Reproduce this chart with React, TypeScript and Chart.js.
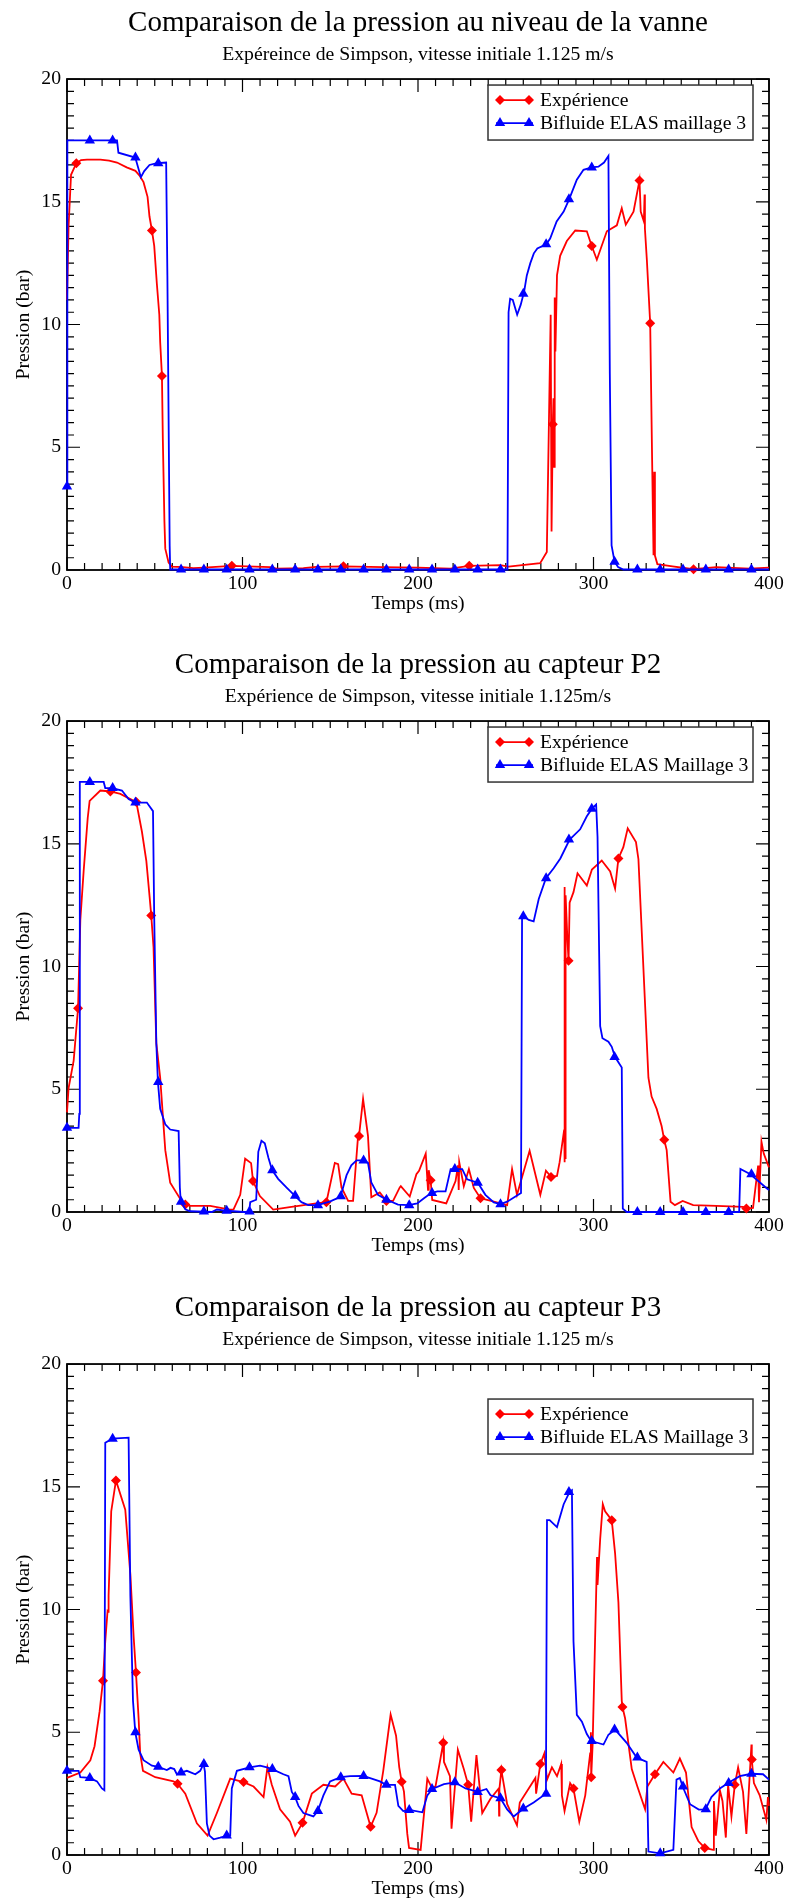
import { useEffect, useRef } from 'react';
import { Chart, registerables } from 'chart.js';

Chart.register(...registerables);

type Pt = [number, number];

const FONT = "'Liberation Serif', 'Times New Roman', serif";
const RED = '#ff0000';
const BLUE = '#0000ff';

// ---------- Chart 1 : vanne ----------
const vanneTitle = 'Comparaison de la pression au niveau de la vanne';
const vanneSubtitle = 'Expéreince de Simpson, vitesse initiale 1.125 m/s';
const vanneSimLabel = 'Bifluide ELAS maillage 3';

const vanneExp: Pt[] = [
  [0, 11.0], [0.9, 14.0], [2.3, 16.1], [5.3, 16.57], [8, 16.7], [11.4, 16.72], [19, 16.72], [24, 16.68],
  [28.5, 16.6], [34, 16.4], [39, 16.26], [41.5, 16.05], [43.6, 15.8], [45.9, 15.2], [47, 14.4], [48.4, 13.83],
  [49.7, 13.2], [51.2, 11.66], [52.6, 10.4], [53.1, 9.28], [54.1, 7.9], [54.6, 5.35], [55.5, 2.0], [56, 0.87],
  [57.9, 0.3], [59.8, 0.14], [66, 0.12], [72, 0.08], [78, 0.1], [93.9, 0.17], [115.7, 0.12], [119.5, 0.06],
  [134.7, 0.08], [142, 0.13], [157.5, 0.15], [180, 0.12], [200, 0.1], [218.4, 0.06], [229.2, 0.17], [246.9, 0.2],
  [251.6, 0.14], [269.6, 0.28], [273.4, 0.73], [275.6, 10.4], [276.1, 1.57], [276.8, 5.94], [277.2, 7.0],
  [277.5, 4.2], [277.9, 11.1], [278.3, 8.9], [279.2, 12.0], [281, 12.8], [284.8, 13.4], [289.6, 13.83],
  [296.2, 13.8], [299, 13.2], [301.9, 12.64], [307.6, 13.8], [313.3, 14.04], [316.1, 14.74], [318.4, 14.07],
  [322.8, 14.6], [326.2, 15.87], [326.9, 14.6], [328.7, 14.2], [329.1, 15.3], [329.3, 13.9], [330.4, 12.64],
  [332.3, 10.05], [333.4, 4.5], [334.2, 0.6], [334.6, 4.0], [335.0, 0.59], [336.4, 0.24], [345, 0.15],
  [357, 0.03], [370, 0.12], [389, 0.06], [400, 0.1],
];
const vanneExpMarks: Pt[] = [
  [5.3, 16.57], [48.4, 13.83], [54.1, 7.9], [93.9, 0.17], [157.5, 0.15], [229.2, 0.17], [276.8, 5.94],
  [299, 13.2], [326.2, 15.87], [332.3, 10.05], [357, 0.03],
];
const vanneSim: Pt[] = [
  [0, 3.4], [0.2, 17.5], [28.5, 17.5], [29.3, 17.0], [38.9, 16.8], [42.1, 16.0], [44, 16.25], [47, 16.5],
  [51.2, 16.57], [56.5, 16.6], [57.2, 12], [58.5, 1], [58.8, 0.02], [251, 0.02], [251.6, 10.5], [252.5, 11.05],
  [254, 11.0], [256.5, 10.4], [258.5, 10.8], [260.5, 11.35], [262, 12.0], [264, 12.5], [266, 12.9], [268, 13.1],
  [273, 13.27], [275.3, 13.5], [279, 14.2], [283, 14.6], [286.1, 15.1], [290.5, 15.9], [294.3, 16.3], [299, 16.4],
  [302.8, 16.43], [306, 16.6], [308.5, 16.87], [309.3, 8], [310.3, 1.0], [312, 0.34], [314, 0.12], [317, 0.02],
  [400, 0.02],
];
const vanneSimMarks: Pt[] = [
  [0, 3.4], [13, 17.5], [26, 17.5], [39, 16.8], [52, 16.57], [65, 0.02], [78, 0.02], [91, 0.02], [104, 0.02],
  [117, 0.02], [130, 0.02], [143, 0.02], [156, 0.02], [169, 0.02], [182, 0.02], [195, 0.02], [208, 0.02],
  [221, 0.02], [234, 0.02], [247, 0.02], [260, 11.25], [273, 13.27], [286, 15.1], [299, 16.4], [312, 0.34],
  [325, 0.02], [338, 0.02], [351, 0.02], [364, 0.02], [377, 0.02], [390, 0.02],
];

// ---------- Chart 2 : capteur P2 ----------
const p2Title = 'Comparaison de la pression au capteur P2';
const p2Subtitle = 'Expérience de Simpson, vitesse initiale 1.125m/s';
const p2SimLabel = 'Bifluide ELAS Maillage 3';

const p2Exp: Pt[] = [
  [0, 4.06], [0.9, 5.05], [3.8, 6.17], [6.3, 8.3], [7.6, 11.9], [9.5, 13.9], [11, 15.3], [11.8, 16.05],
  [12.9, 16.75], [19, 17.17], [24.7, 17.13], [30.4, 17.03], [36.1, 16.82], [39.5, 16.7], [42.7, 15.49],
  [45.2, 14.3], [47.1, 12.82], [48, 12.08], [49.3, 10.79], [50.9, 6.87], [53.1, 5.47], [56, 2.52], [58.8, 1.19],
  [65.5, 0.42], [67.4, 0.31], [70.2, 0.25], [81.6, 0.25], [92.8, 0.1], [94.9, 0.11], [98.7, 0.7], [101.5, 2.17],
  [104.9, 1.99], [106, 1.26], [109.9, 0.65], [117.5, 0.1], [126.9, 0.2], [142, 0.35], [147.8, 0.4], [152.6, 2.0],
  [154.5, 1.95], [156.4, 1.0], [160.2, 0.45], [163, 0.45], [165.8, 3.05], [166.4, 3.1], [168.7, 4.6],
  [171.5, 3.1], [173.4, 0.6], [178.2, 0.8], [182, 0.45], [185.8, 0.45], [189.6, 1.0], [190.2, 1.05],
  [195.3, 0.63], [199.1, 1.54], [200.6, 1.68], [204.4, 2.38], [205.7, 0.9], [206.1, 1.7], [207.2, 1.29],
  [208.1, 0.49], [216.1, 0.35], [221.4, 1.26], [222.8, 1.9], [223.2, 0.9], [223.5, 2.03], [226.1, 1.05],
  [229, 1.75], [231.8, 0.98], [235.6, 0.56], [239.4, 0.49], [247, 0.35], [250.8, 0.28], [253.6, 1.75],
  [256.4, 0.7], [263.6, 2.49], [269.7, 0.7], [272.9, 1.68], [275.8, 1.43], [279.2, 1.47], [280.7, 2.03],
  [283.3, 3.36], [283.5, 2.03], [283.6, 13.24], [283.8, 2.2], [284.1, 12.9], [285.2, 11.0], [285.8, 10.23],
  [286.4, 12.6], [288.6, 13.03], [290.9, 13.8], [296.2, 13.3], [299.1, 13.95], [304.7, 14.32], [309.5, 13.87],
  [312.3, 13.17], [314.2, 14.4], [317, 14.86], [319.5, 15.63], [324.2, 15.07], [325.6, 14.37], [331.3, 5.47],
  [333.1, 4.7], [336, 4.2], [338.8, 3.5], [340.3, 2.94], [341.7, 2.52], [343.9, 0.42], [346.4, 0.28],
  [350.8, 0.45], [356.8, 0.28], [370, 0.25], [385.2, 0.21], [387.1, 0.14], [390.9, 0.17], [393.8, 1.89],
  [394.3, 0.4], [395.7, 2.87], [397, 2.38], [400, 1.82],
];
const p2ExpMarks: Pt[] = [
  [6.3, 8.3], [24.7, 17.13], [39.5, 16.7], [48, 12.08], [67.4, 0.31], [106, 1.26], [147.8, 0.4], [166.4, 3.1],
  [182, 0.45], [207.2, 1.29], [235.6, 0.56], [275.8, 1.43], [285.8, 10.23], [314.2, 14.4], [340.3, 2.94],
  [387.1, 0.14],
];
const p2Sim: Pt[] = [
  [0, 3.43], [6.6, 3.43], [7.0, 4.0], [7.3, 17.52], [20.9, 17.52], [21.8, 17.27], [25.8, 17.27], [31.3, 17.17],
  [35.1, 16.82], [38.9, 16.68], [45.5, 16.68], [49, 16.33], [49.7, 12], [50.9, 6.87], [51.8, 5.3], [53.1, 4.2],
  [56, 3.57], [58.8, 3.36], [63.6, 3.3], [64.3, 1.0], [64.8, 0.45], [67.4, 0.11], [70.2, 0.03], [82.5, 0.0],
  [85.4, 0.1], [91, 0.05], [100.6, 0.0], [103.8, 0.0], [104.4, 0.4], [107.8, 0.5], [109, 2.45], [110.8, 2.9],
  [112.7, 2.8], [114.8, 2.2], [116.8, 1.72], [120.3, 1.35], [125, 1.0], [129.6, 0.68], [133.6, 0.4],
  [137.4, 0.28], [142.7, 0.28], [149.7, 0.42], [155.8, 0.62], [159.3, 1.5], [162, 1.9], [165, 2.1],
  [168.7, 2.1], [171.5, 2.0], [173.4, 1.2], [177.2, 0.7], [181.6, 0.52], [188.6, 0.3], [194.6, 0.28],
  [199.6, 0.35], [203.4, 0.56], [207.5, 0.77], [211, 0.84], [215.7, 0.84], [218.6, 1.75], [221.4, 1.75],
  [225.2, 1.75], [228, 1.33], [234.1, 1.19], [238.4, 0.7], [243.2, 0.39], [247, 0.32], [250.8, 0.42],
  [258.7, 0.77], [259.3, 12.05], [260.2, 12.05], [263.1, 11.9], [265.9, 11.84], [268.8, 12.75], [272.9, 13.6],
  [277.3, 14.0], [281.1, 14.4], [286.4, 15.17], [292.4, 15.59], [296.2, 16.12], [299.1, 16.43], [301.5, 16.6],
  [302.3, 15.28], [303.8, 7.57], [305.1, 7.08], [308.5, 6.94], [310.4, 6.73], [312.3, 6.31], [316.1, 5.89],
  [316.7, 0.14], [318.9, 0.0], [383, 0.0], [383.7, 1.75], [389.4, 1.54], [398.5, 0.98], [400, 0.9],
];
const p2SimMarks: Pt[] = [
  [0, 3.43], [13, 17.52], [26, 17.27], [39, 16.68], [52, 5.3], [65, 0.42], [78, 0.02], [91, 0.05], [104, 0.02],
  [117, 1.7], [130, 0.66], [143, 0.28], [156, 0.64], [169, 2.1], [182, 0.5], [195, 0.28], [208, 0.77],
  [221, 1.75], [234, 1.19], [247, 0.32], [260, 12.05], [273, 13.6], [286, 15.17], [299, 16.43], [312, 6.31],
  [325, 0.0], [338, 0.0], [351, 0.0], [364, 0.0], [377, 0.0], [390, 1.54],
];

// ---------- Chart 3 : capteur P3 ----------
const p3Title = 'Comparaison de la pression au capteur P3';
const p3Subtitle = 'Expérience de Simpson, vitesse initiale 1.125 m/s';
const p3SimLabel = 'Bifluide ELAS Maillage 3';

const p3Exp: Pt[] = [
  [0, 3.14], [7.6, 3.36], [13.3, 3.86], [15.7, 4.43], [18.6, 5.86], [20.5, 7.1], [21.8, 8.71], [23.1, 9.93],
  [23.4, 9.9], [23.7, 10.57], [25.2, 14], [27.9, 15.26], [33.2, 14.07], [36.1, 11.43], [38, 8.86], [39.3, 7.43],
  [40.8, 5.57], [41.7, 4.14], [43.3, 3.43], [50.3, 3.17], [60.7, 3.0], [63, 2.9], [67.4, 2.5], [74, 1.29],
  [80.1, 0.79], [85.4, 1.71], [93, 3.11], [100.6, 2.97], [106.3, 2.79], [112, 2.36], [114.2, 3.57],
  [116.7, 2.86], [121.4, 1.86], [127.1, 1.36], [130, 0.79], [134.2, 1.31], [139.5, 2.5], [146.1, 2.86],
  [152.8, 2.79], [157.5, 3.11], [162.2, 2.5], [167.9, 2.43], [173, 1.15], [176.4, 1.72], [180.2, 3.43],
  [184.4, 5.72], [187.5, 4.86], [189.3, 3.58], [190.7, 2.98], [192, 2.58], [193.9, 0.86], [194.9, 0.29],
  [201.5, 0.21], [205.3, 3.11], [208.1, 2.71], [210, 2.8], [214.4, 4.57], [214.8, 3.79], [218.2, 3.21],
  [219.1, 1.07], [222.7, 4.29], [226.1, 3.5], [228.6, 2.86], [230.3, 1.36], [233.3, 4.07], [236.6, 1.71],
  [241.3, 2.29], [246, 2.71], [246.2, 1.6], [246.4, 2.7], [247.5, 3.46], [250.8, 2.07], [256.4, 1.21],
  [258, 2.14], [263.1, 2.71], [266.9, 3.14], [267.3, 2.5], [269.7, 3.71], [272, 4.14], [273.5, 3.07],
  [276.3, 3.57], [279.2, 3.21], [281.6, 3.71], [282, 2.43], [283.5, 1.79], [286.7, 2.93], [288.6, 2.71],
  [291.9, 1.36], [295.3, 2.43], [298.1, 4.14], [298.5, 5.0], [298.7, 3.17], [299.5, 4.5], [302, 12.14],
  [302.3, 11.0], [303.8, 12.86], [305.3, 14.29], [306.6, 14.0], [310.4, 13.64], [312.3, 12.29], [314.2, 10.29],
  [316.1, 6.29], [316.5, 6.03], [318, 5.57], [321.8, 3.5], [325, 2.79], [329.4, 1.86], [330.7, 2.79],
  [335, 3.29], [339.8, 3.79], [345.5, 3.36], [349.2, 3.93], [352.7, 3.36], [355.9, 1.14], [359.7, 0.57],
  [363.4, 0.29], [368.2, 0.21], [368.6, 2.2], [369.7, 0.79], [372, 2.64], [373.5, 2.2], [375.4, 0.71],
  [376.7, 2.86], [378.6, 1.57], [380.5, 2.86], [382.4, 3.57], [385.2, 2.57], [387.1, 0.86], [390, 4.5],
  [390.2, 3.89], [391.4, 2.93], [394.7, 2.43], [398.5, 1.43], [399.4, 2.36], [400, 2.0],
];
const p3ExpMarks: Pt[] = [
  [20.5, 7.1], [27.9, 15.26], [39.3, 7.43], [63, 2.9], [100.6, 2.97], [134.2, 1.31], [173, 1.15],
  [190.7, 2.98], [214.4, 4.57], [228.6, 2.86], [247.5, 3.46], [269.7, 3.71], [288.6, 2.71], [298.7, 3.17],
  [310.4, 13.64], [316.5, 6.03], [335, 3.29], [363.4, 0.29], [380.5, 2.86], [390.2, 3.89],
];
const p3Sim: Pt[] = [
  [0, 3.43], [6.6, 3.43], [7.6, 3.17], [12.9, 3.14], [17.1, 3.0], [19.9, 2.71], [21.3, 2.64], [21.8, 16.79],
  [25.8, 16.96], [35.1, 17.0], [36.1, 10.57], [37.6, 6.29], [38.9, 5.0], [40.8, 4.29], [43.6, 3.86],
  [48.4, 3.64], [51.6, 3.6], [56.9, 3.46], [59, 3.55], [61.1, 3.5], [62.6, 3.29], [64.9, 3.36], [68.3, 3.43],
  [73.1, 3.29], [75.9, 3.43], [77.8, 3.71], [78.6, 3.4], [79.7, 1.29], [81.2, 0.79], [83.5, 0.64], [87.3, 0.71],
  [91.1, 0.79], [93, 0.79], [93.9, 2.71], [96.8, 3.43], [104, 3.57], [110, 3.64], [113.9, 3.57], [116.9, 3.5],
  [123.3, 3.29], [126.2, 3.21], [128.1, 2.57], [130, 2.36], [131.9, 2.0], [134.7, 1.71], [140.4, 1.57],
  [142.9, 1.79], [146.1, 2.43], [149.9, 3.0], [156, 3.17], [161.3, 3.21], [168.9, 3.22], [178.3, 3.0],
  [181.8, 2.86], [186.9, 2.86], [188.8, 2.0], [191.6, 1.79], [195.8, 1.83], [202.5, 1.74], [205.3, 2.43],
  [208.1, 2.69], [214.8, 2.89], [221, 2.96], [227.1, 2.71], [234.1, 2.57], [239, 2.69], [241.3, 2.43],
  [247, 2.31], [250.8, 1.86], [254.5, 1.57], [260.2, 1.89], [265.9, 2.14], [272.9, 2.5], [273.5, 13.64],
  [275, 13.64], [279.2, 13.36], [283, 14.29], [286.4, 14.79], [287.7, 14.86], [288.6, 8.71], [290.5, 5.71],
  [293.4, 5.43], [296.2, 4.93], [298.7, 4.64], [305.7, 4.5], [308.5, 4.9], [312.3, 5.11], [318.9, 4.57],
  [324.6, 3.97], [330.3, 3.79], [331.3, 0.14], [337.9, 0.07], [345.5, 0.21], [347.3, 3.07], [349.2, 3.14],
  [350.8, 2.79], [355, 2.07], [360, 1.85], [363.8, 1.86], [367.2, 2.36], [372, 2.71], [376.7, 2.93],
  [383.3, 3.21], [390, 3.31], [396.6, 3.29], [400, 3.07],
];
const p3SimMarks: Pt[] = [
  [0, 3.43], [13, 3.14], [26, 16.96], [39, 5.0], [52, 3.6], [65, 3.36], [78, 3.71], [91, 0.79], [104, 3.57],
  [117, 3.5], [130, 2.36], [143, 1.79], [156, 3.17], [169, 3.22], [182, 2.86], [195, 1.83], [208, 2.69],
  [221, 2.96], [234, 2.57], [247, 2.31], [260, 1.89], [273, 2.5], [286, 14.79], [299, 4.64], [312, 5.11],
  [325, 3.97], [338, 0.07], [351, 2.79], [364, 1.86], [377, 2.93], [390, 3.31],
];

const expLabel = 'Expérience';
const xAxisLabel = 'Temps (ms)';
const yAxisLabel = 'Pression (bar)';
const xRange: Pt = [0, 400];
const yRange: Pt = [0, 20];
const xStep = 100;
const yStep = 5;

const toXY = (pts: Pt[]) => pts.map(([x, y]) => ({ x, y }));

function drawDiamond(ctx: CanvasRenderingContext2D, x: number, y: number, r: number) {
  ctx.beginPath();
  ctx.moveTo(x - r, y);
  ctx.lineTo(x, y - r);
  ctx.lineTo(x + r, y);
  ctx.lineTo(x, y + r);
  ctx.closePath();
  ctx.fill();
}
function drawTriangle(ctx: CanvasRenderingContext2D, x: number, y: number, r: number) {
  ctx.beginPath();
  ctx.moveTo(x, y - r);
  ctx.lineTo(x + r * 0.866, y + r * 0.5);
  ctx.lineTo(x - r * 0.866, y + r * 0.5);
  ctx.closePath();
  ctx.fill();
}

const gracePlugin = {
  id: 'grace',
  beforeDatasetsDraw(chart: any) {
    const { ctx, chartArea: a, scales } = chart;
    const xs = scales.x;
    const ys = scales.y;
    ctx.save();
    ctx.strokeStyle = '#000';
    ctx.lineWidth = 1.2;
    ctx.beginPath();
    for (let i = 0; i <= 40; i++) {
      const px = xs.getPixelForValue(i * 10);
      const len = i % 10 === 0 ? 13 : 7;
      ctx.moveTo(px, a.bottom);
      ctx.lineTo(px, a.bottom - len);
      ctx.moveTo(px, a.top);
      ctx.lineTo(px, a.top + len);
    }
    for (let i = 0; i <= 40; i++) {
      const py = ys.getPixelForValue(i * 0.5);
      const len = i % 10 === 0 ? 13 : 7;
      ctx.moveTo(a.left, py);
      ctx.lineTo(a.left + len, py);
      ctx.moveTo(a.right, py);
      ctx.lineTo(a.right - len, py);
    }
    ctx.stroke();
    ctx.lineWidth = 1.8;
    ctx.strokeRect(a.left, a.top, a.right - a.left, a.bottom - a.top);
    ctx.restore();
  },
  afterDatasetsDraw(chart: any, _args: any, opts: any) {
    const { ctx, chartArea: a } = chart;
    const w = 265;
    const h = 55;
    const x0 = a.right - 281;
    const y0 = a.top + (opts.legendTop ?? 6);
    ctx.save();
    ctx.fillStyle = '#fff';
    ctx.fillRect(x0, y0, w, h);
    ctx.strokeStyle = '#333';
    ctx.lineWidth = 1.5;
    ctx.strokeRect(x0, y0, w, h);
    const rows = [
      { label: expLabel, color: RED, kind: 'diamond' },
      { label: opts.simLabel, color: BLUE, kind: 'triangle' },
    ];
    rows.forEach((r, i) => {
      const cy = y0 + 15 + i * 23;
      ctx.strokeStyle = r.color;
      ctx.fillStyle = r.color;
      ctx.lineWidth = 1.8;
      ctx.beginPath();
      ctx.moveTo(x0 + 8, cy);
      ctx.lineTo(x0 + 45, cy);
      ctx.stroke();
      if (r.kind === 'diamond') {
        drawDiamond(ctx, x0 + 12, cy, 5);
        drawDiamond(ctx, x0 + 41, cy, 5);
      } else {
        drawTriangle(ctx, x0 + 12, cy, 6);
        drawTriangle(ctx, x0 + 41, cy, 6);
      }
      ctx.fillStyle = '#000';
      ctx.font = `19.7px ${FONT}`;
      ctx.textBaseline = 'middle';
      ctx.textAlign = 'left';
      ctx.fillText(r.label, x0 + 52, cy + 1);
    });
    ctx.restore();
  },
};

interface Panel {
  title: string;
  subtitle: string;
  simLabel: string;
  exp: Pt[];
  expMarks: Pt[];
  sim: Pt[];
  simMarks: Pt[];
  legendTop: number;
  top: number;
}

const panels: Panel[] = [
  { title: vanneTitle, subtitle: vanneSubtitle, simLabel: vanneSimLabel, exp: vanneExp, expMarks: vanneExpMarks, sim: vanneSim, simMarks: vanneSimMarks, legendTop: 6, top: 0 },
  { title: p2Title, subtitle: p2Subtitle, simLabel: p2SimLabel, exp: p2Exp, expMarks: p2ExpMarks, sim: p2Sim, simMarks: p2SimMarks, legendTop: 6, top: 642 },
  { title: p3Title, subtitle: p3Subtitle, simLabel: p3SimLabel, exp: p3Exp, expMarks: p3ExpMarks, sim: p3Sim, simMarks: p3SimMarks, legendTop: 35, top: 1285 },
];

const CW = 787;
const CH = 616;

function PanelChart({ p }: { p: Panel }) {
  const ref = useRef<HTMLCanvasElement | null>(null);
  useEffect(() => {
    if (!ref.current) return;
    const tickFont = { family: FONT, size: 19.7, weight: 'normal' as const };
    const chart = new Chart(ref.current, {
      type: 'line',
      data: {
        datasets: [
          {
            label: p.simLabel + ' markers',
            data: toXY(p.simMarks),
            showLine: false,
            pointStyle: 'triangle',
            pointRadius: 6,
            pointBackgroundColor: BLUE,
            pointBorderColor: BLUE,
            pointBorderWidth: 0,
            clip: false,
          } as any,
          {
            label: p.simLabel,
            data: toXY(p.sim),
            borderColor: BLUE,
            borderWidth: 1.8,
            pointRadius: 0,
            fill: false,
            tension: 0,
            clip: false,
          } as any,
          {
            label: expLabel + ' markers',
            data: toXY(p.expMarks),
            showLine: false,
            pointStyle: 'rectRot',
            pointRadius: 5,
            pointBackgroundColor: RED,
            pointBorderColor: RED,
            pointBorderWidth: 0,
            clip: false,
          } as any,
          {
            label: expLabel,
            data: toXY(p.exp),
            borderColor: RED,
            borderWidth: 1.8,
            pointRadius: 0,
            fill: false,
            tension: 0,
            clip: false,
          } as any,
        ],
      },
      options: {
        responsive: false,
        animation: false,
        devicePixelRatio: 1,
        events: [],
        layout: { padding: { top: 0, left: 0, right: 18, bottom: 0 } },
        plugins: {
          legend: { display: false },
          tooltip: { enabled: false },
          title: {
            display: true,
            text: p.title,
            fullSize: false,
            color: '#000',
            font: { family: FONT, size: 29, weight: 'normal' },
            padding: { top: 6, bottom: 0 },
          },
          subtitle: {
            display: true,
            text: p.subtitle,
            fullSize: false,
            color: '#000',
            font: { family: FONT, size: 19.7, weight: 'normal' },
            padding: { top: 1.8, bottom: 12.8 },
          },
          grace: { legendTop: p.legendTop, simLabel: p.simLabel },
        } as any,
        scales: {
          x: {
            type: 'linear',
            position: 'bottom',
            min: xRange[0],
            max: xRange[1],
            grid: { display: false, drawTicks: false },
            border: { display: false },
            ticks: { stepSize: xStep, color: '#000', font: tickFont, padding: 2, maxRotation: 0, autoSkip: false },
            title: { display: true, text: xAxisLabel, color: '#000', font: tickFont, padding: { top: 0, bottom: 0.2 } },
            afterFit: (s: any) => { s.height = 46; },
          },
          y: {
            type: 'linear',
            position: 'left',
            min: yRange[0],
            max: yRange[1],
            grid: { display: false, drawTicks: false },
            border: { display: false },
            ticks: { stepSize: yStep, color: '#000', font: tickFont, padding: 6, autoSkip: false },
            title: { display: true, text: yAxisLabel, color: '#000', font: tickFont, padding: { top: 12, bottom: 0 } },
            afterFit: (s: any) => { s.width = 67; },
          },
        } as any,
      },
      plugins: [gracePlugin as any],
    });
    return () => chart.destroy();
  }, [p]);
  return (
    <canvas
      ref={ref}
      width={CW}
      height={CH}
      style={{ position: 'absolute', left: 0, top: p.top, width: CW, height: CH, display: 'block' }}
    />
  );
}

export default function App() {
  useEffect(() => {
    document.body.style.margin = '0';
    document.body.style.background = '#fff';
  }, []);
  return (
    <div style={{ position: 'relative', width: CW, height: 1901, background: '#fff' }}>
      {panels.map((p, i) => (
        <PanelChart key={i} p={p} />
      ))}
    </div>
  );
}
